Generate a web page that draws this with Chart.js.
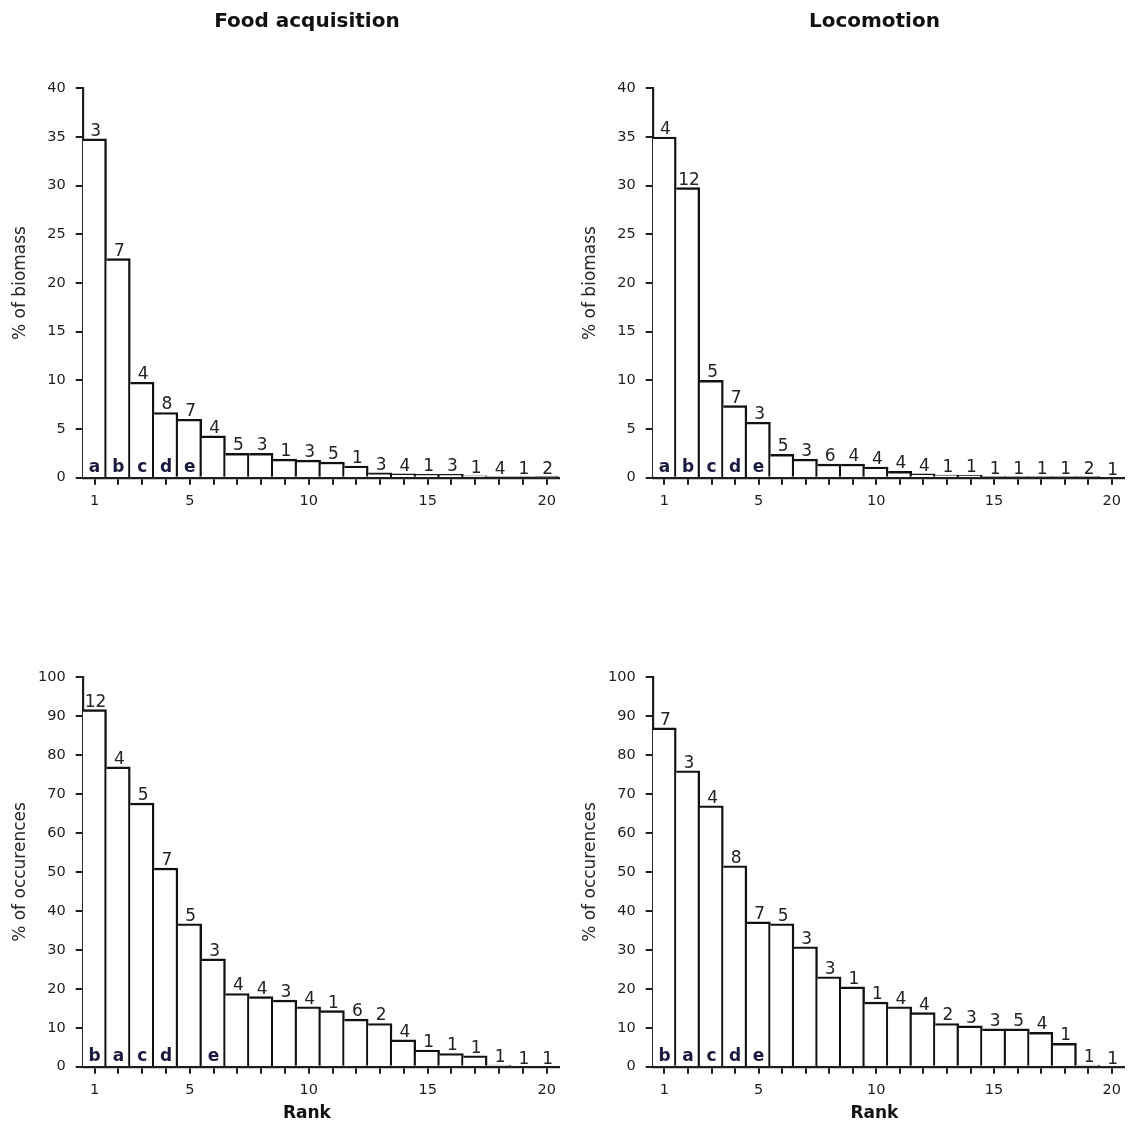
<!DOCTYPE html>
<html>
<head>
<meta charset="utf-8">
<title>Rank distributions: food acquisition and locomotion</title>
<script src="https://cdn.jsdelivr.net/npm/chart.js@4.4.1/dist/chart.umd.min.js"></script>
<style>
  html, body { margin: 0; padding: 0; background: #ffffff; overflow: hidden; }
  #page { position: relative; width: 1129px; height: 1124px; }
  canvas { position: absolute; }
</style>
</head>
<body>
<div id="page">
  <canvas id="foodBiomass" width="564" height="562" style="left:0;top:0"></canvas>
  <canvas id="locoBiomass" width="565" height="562" style="left:564px;top:0"></canvas>
  <canvas id="foodOccur" width="564" height="562" style="left:0;top:562px"></canvas>
  <canvas id="locoOccur" width="565" height="562" style="left:564px;top:562px"></canvas>
</div>
<script>
// Rank categories and the ranks that carry a tick label
const ranks = [1, 2, 3, 4, 5, 6, 7, 8, 9, 10, 11, 12, 13, 14, 15, 16, 17, 18, 19, 20];
const labelledRanks = [1, 5, 10, 15, 20];

// Food acquisition — % of biomass per rank
const foodBiomass = [34.8, 22.5, 9.8, 6.7, 6.0, 4.3, 2.5, 2.5, 1.9, 1.8, 1.6, 1.2, 0.5, 0.4, 0.35, 0.35, 0.2, 0.1, 0.1, 0.05];
const foodBiomassCounts = [3, 7, 4, 8, 7, 4, 5, 3, 1, 3, 5, 1, 3, 4, 1, 3, 1, 4, 1, 2];
const foodBiomassLetters = ['a', 'b', 'c', 'd', 'e', '', '', '', '', '', '', '', '', '', '', '', '', '', '', ''];

// Locomotion — % of biomass per rank
const locoBiomass = [35.0, 29.8, 10.0, 7.4, 5.7, 2.4, 1.9, 1.4, 1.4, 1.1, 0.65, 0.4, 0.27, 0.25, 0.08, 0.08, 0.08, 0.08, 0.08, 0];
const locoBiomassCounts = [4, 12, 5, 7, 3, 5, 3, 6, 4, 4, 4, 4, 1, 1, 1, 1, 1, 1, 2, 1];
const locoBiomassLetters = ['a', 'b', 'c', 'd', 'e', '', '', '', '', '', '', '', '', '', '', '', '', '', '', ''];

// Food acquisition — % of occurences per rank
const foodOccur = [91.7, 77.0, 67.7, 51.0, 36.7, 27.7, 18.8, 18.0, 17.1, 15.4, 14.4, 12.2, 11.1, 6.9, 4.3, 3.4, 2.8, 0.4, 0, 0];
const foodOccurCounts = [12, 4, 5, 7, 5, 3, 4, 4, 3, 4, 1, 6, 2, 4, 1, 1, 1, 1, 1, 1];
const foodOccurLetters = ['b', 'a', 'c', 'd', '', 'e', '', '', '', '', '', '', '', '', '', '', '', '', '', ''];

// Locomotion — % of occurences per rank
const locoOccur = [87.0, 76.0, 67.0, 51.6, 37.2, 36.7, 30.8, 23.1, 20.5, 16.6, 15.4, 13.9, 11.1, 10.5, 9.7, 9.7, 8.8, 6.0, 0.4, 0];
const locoOccurCounts = [7, 3, 4, 8, 7, 5, 3, 3, 1, 1, 4, 4, 2, 3, 3, 5, 4, 1, 1, 1];
const locoOccurLetters = ['b', 'a', 'c', 'd', 'e', '', '', '', '', '', '', '', '', '', '', '', '', '', '', ''];

const FONT = '"DejaVu Sans", "Liberation Sans", sans-serif';
const INK = '#1e1e1e';

// Writes the count above each bar, the group letter at its foot,
// and the panel heading / axis caption.
const annotate = {
  id: 'annotate',
  afterDraw(chart, args, opts) {
    const { ctx, chartArea } = chart;
    const yScale = chart.scales.y;
    const zero = yScale.getPixelForValue(0);
    const meta = chart.getDatasetMeta(0);
    ctx.save();
    ctx.textAlign = 'center';
    ctx.textBaseline = 'alphabetic';
    meta.data.forEach((bar, i) => {
      ctx.font = '17px ' + FONT;
      ctx.fillStyle = '#222222';
      ctx.fillText(String(opts.counts[i]), bar.x + 1, bar.y - 3);
      if (opts.letters[i]) {
        ctx.font = 'bold 17px ' + FONT;
        ctx.fillStyle = '#1a1a3e';
        ctx.fillText(opts.letters[i], bar.x, zero - 6);
      }
    });
    const cx = (chartArea.left + chartArea.right) / 2 - 13.7;
    if (opts.heading) {
      ctx.font = 'bold 20px ' + FONT;
      ctx.fillStyle = '#111111';
      ctx.fillText(opts.heading, cx, chartArea.top - 61.3);
    }
    if (opts.caption) {
      ctx.font = 'bold 17px ' + FONT;
      ctx.fillStyle = '#111111';
      ctx.fillText(opts.caption, cx, chartArea.bottom + 51.3);
    }
    ctx.restore();
  }
};

function panel(id, values, counts, letters, yMax, yStep, yTitle, heading, caption, padLeft, padRight, padTop, padBottom) {
  return new Chart(document.getElementById(id), {
    type: 'bar',
    data: {
      labels: ranks,
      datasets: [{
        data: values,
        backgroundColor: '#ffffff',
        borderColor: '#111111',
        borderWidth: { top: 2.4, right: 2.4, bottom: 0, left: 0 },
        borderSkipped: false,
        barPercentage: 1,
        categoryPercentage: 1
      }]
    },
    options: {
      responsive: false,
      animation: false,
      events: [],
      layout: { padding: { left: padLeft, right: padRight, top: padTop, bottom: padBottom } },
      plugins: {
        legend: { display: false },
        tooltip: { enabled: false },
        annotate: { counts, letters, heading, caption }
      },
      scales: {
        x: {
          z: 1,
          offset: true,
          grid: { offset: false, drawOnChartArea: false, drawTicks: true, tickLength: 7, color: INK, lineWidth: 2 },
          border: { display: true, color: INK, width: 2.2 },
          ticks: {
            autoSkip: false, maxRotation: 0, minRotation: 0, padding: 8,
            color: INK, font: { family: FONT, size: 14.5 },
            callback: (v, i) => labelledRanks.includes(ranks[i]) ? String(ranks[i]) : ''
          },
          afterFit: s => { s.height = 40; }
        },
        y: {
          z: 1,
          min: 0, max: yMax,
          grid: { drawOnChartArea: false, drawTicks: true, tickLength: 7, color: INK, lineWidth: 2 },
          border: { display: true, color: INK, width: 2.2 },
          ticks: { stepSize: yStep, padding: 10, color: INK, font: { family: FONT, size: 14.5 } },
          title: { display: true, text: yTitle, color: '#262626', font: { family: FONT, size: 17 }, padding: 0 },
          afterFit: s => { s.width = 72.7; }
        }
      }
    },
    plugins: [annotate]
  });
}

panel('foodBiomass', foodBiomass, foodBiomassCounts, foodBiomassLetters, 40, 5, '% of biomass', 'Food acquisition', null, 10, 5.3, 88.3, 44.3);
panel('locoBiomass', locoBiomass, locoBiomassCounts, locoBiomassLetters, 40, 5, '% of biomass', 'Locomotion', null, 16, 0.3, 88.3, 44.3);
panel('foodOccur', foodOccur, foodOccurCounts, foodOccurLetters, 100, 10, '% of occurences', null, 'Rank', 10, 5.3, 115.3, 17.3);
panel('locoOccur', locoOccur, locoOccurCounts, locoOccurLetters, 100, 10, '% of occurences', null, 'Rank', 16, 0.3, 115.3, 17.3);
</script>
</body>
</html>
